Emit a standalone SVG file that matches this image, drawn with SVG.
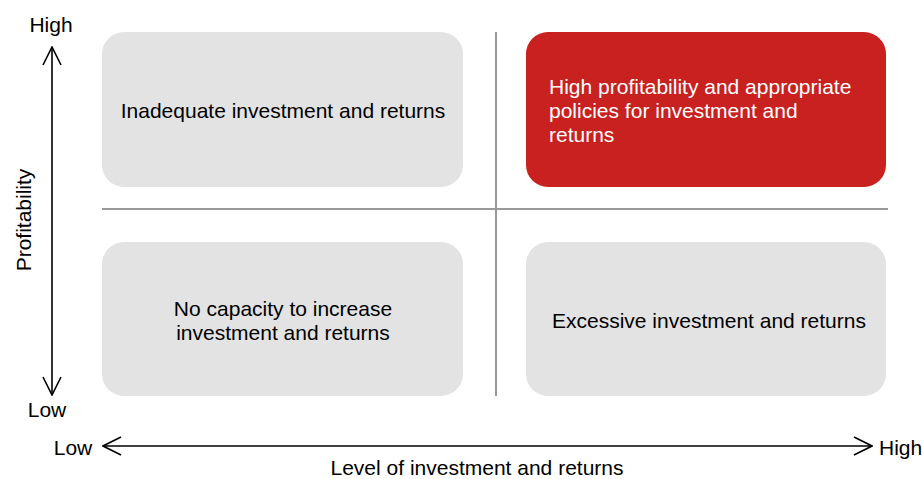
<svg xmlns="http://www.w3.org/2000/svg" width="922" height="479" viewBox="0 0 922 479">
  <style>
    text { font-family: "Liberation Sans", Arial, sans-serif; font-size: 21px; fill: #000; }
    .box { fill: #E3E3E3; }
    .hot { fill: #C8211F; }
    .hot-text { fill: #FFFFFF; }
    .divider { stroke: #999999; stroke-width: 2; fill: none; }
    .axis { stroke: #000; stroke-width: 1.6; fill: none; }
  </style>
  <defs>
    <marker id="open-arrow" viewBox="0 0 20 20" refX="19" refY="10" markerWidth="20" markerHeight="20" markerUnits="userSpaceOnUse" orient="auto-start-reverse">
      <path d="M1,1 L19,10 L1,19" fill="none" stroke="#000" stroke-width="1.6"/>
    </marker>
  </defs>

  <g id="connectors">
    <!-- quadrant dividers -->
    <line class="divider" x1="496" y1="32" x2="496" y2="396"/>
    <line class="divider" x1="102" y1="209" x2="888" y2="209"/>
    <!-- axes -->
    <line class="axis" x1="52" y1="395" x2="52" y2="47" marker-start="url(#open-arrow)" marker-end="url(#open-arrow)"/>
    <line class="axis" x1="103" y1="446" x2="872" y2="446" marker-start="url(#open-arrow)" marker-end="url(#open-arrow)"/>
  </g>

  <g id="node-top-left">
    <rect class="box" x="102" y="32" width="361" height="155" rx="22"/>
    <text x="283" y="118" text-anchor="middle">Inadequate investment and returns</text>
  </g>

  <g id="node-top-right">
    <rect class="hot" x="526" y="32" width="360" height="155" rx="22"/>
    <text class="hot-text" x="549" y="94">High profitability and appropriate</text>
    <text class="hot-text" x="549" y="118">policies for investment and</text>
    <text class="hot-text" x="549" y="142">returns</text>
  </g>

  <g id="node-bottom-left">
    <rect class="box" x="102" y="242" width="361" height="154" rx="22"/>
    <text x="283" y="316" text-anchor="middle">No capacity to increase</text>
    <text x="283" y="340" text-anchor="middle">investment and returns</text>
  </g>

  <g id="node-bottom-right">
    <rect class="box" x="526" y="242" width="360" height="154" rx="22"/>
    <text x="709" y="328" text-anchor="middle">Excessive investment and returns</text>
  </g>

  <g id="axis-labels">
    <text x="51" y="32" text-anchor="middle">High</text>
    <text x="47" y="417" text-anchor="middle">Low</text>
    <text x="73" y="455" text-anchor="middle">Low</text>
    <text x="879" y="455">High</text>
    <text x="477" y="475" text-anchor="middle">Level of investment and returns</text>
    <text x="0" y="0" text-anchor="middle" transform="translate(31,220) rotate(-90)">Profitability</text>
  </g>
</svg>
